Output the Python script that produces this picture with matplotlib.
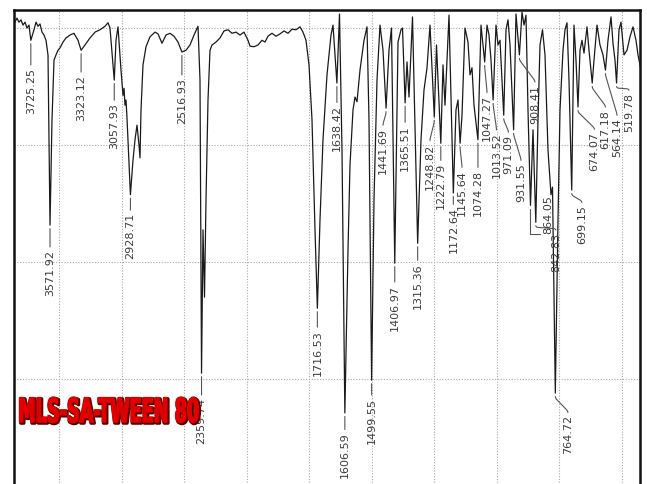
import numpy as np
import matplotlib
matplotlib.use('Agg')
import matplotlib.pyplot as plt
import matplotlib.patheffects as pe
from matplotlib.colors import to_rgba
from matplotlib.transforms import Affine2D

'''FTIR spectrum of MLS-SA-TWEEN 80'''

# wavenumber (cm-1) and transmittance (%)
wavenumber = [3852, 3836, 3820, 3804, 3788, 3772, 3756, 3740, 3725.25, 3700,
              3684, 3668, 3652, 3636, 3620, 3604, 3588, 3571.92, 3556, 3540,
              3524, 3508, 3492, 3468, 3444, 3412, 3380, 3348, 3323.12, 3292,
              3252, 3212, 3172, 3132, 3108, 3092, 3057.93, 3044, 3028, 3004,
              2988, 2980, 2972, 2964, 2956, 2928.71, 2908, 2892, 2876, 2860,
              2852, 2844, 2828, 2804, 2772, 2732, 2708, 2676, 2644, 2612,
              2580, 2548, 2516.93, 2484, 2452, 2420, 2388, 2372, 2359.74, 2348,
              2336, 2324, 2308, 2292, 2276, 2244, 2212, 2180, 2148, 2116,
              2084, 2052, 2020, 1994, 1986, 1970, 1954, 1938, 1926, 1914,
              1898, 1882, 1866, 1850, 1834, 1818, 1802, 1786, 1774, 1762,
              1750, 1738, 1726, 1716.53, 1706, 1694, 1678, 1662, 1654, 1638.42,
              1628, 1618, 1606.59, 1594, 1586, 1574, 1566, 1558, 1546, 1530,
              1518, 1510, 1499.55, 1490, 1478, 1466, 1454, 1441.69, 1430, 1420,
              1406.97, 1394, 1382, 1376, 1365.51, 1358, 1350, 1336, 1315.36, 1302,
              1290, 1278, 1266, 1248.82, 1240, 1222.79, 1214, 1206, 1190, 1172.64,
              1162, 1154, 1145.64, 1138, 1126, 1114, 1106, 1098, 1090, 1074.28,
              1062, 1054, 1047.27, 1038, 1030, 1022, 1013.52, 1002, 994, 986,
              971.09, 962, 954, 946, 931.55, 922, 908.41, 898, 890, 882,
              874, 864.05, 854, 842.83, 834, 826, 816, 806, 794, 782,
              776, 764.72, 754, 746, 734, 726, 718, 710, 699.15, 690,
              682, 674.07, 666, 658, 650, 638, 630, 617.18, 610, 598,
              586, 574, 564.14, 554, 542, 534, 526, 519.78, 510, 502,
              490, 478, 466, 454, 442, 434, 426, 418]
transmittance = [101.0, 101.7, 101.0, 101.4, 100.5, 101.0, 100.0, 100.5, 97.9, 99.7,
                 101.0, 100.3, 100.7, 99.3, 98.8, 97.9, 95.4, 66.3, 84.3, 94.5,
                 95.4, 96.2, 96.6, 97.6, 98.3, 98.8, 99.1, 97.9, 96.2, 97.1,
                 98.3, 99.3, 99.7, 100.3, 100.9, 100.0, 91.1, 97.9, 100.2, 92.8,
                 88.5, 89.7, 86.8, 87.7, 84.6, 71.5, 77.4, 80.9, 83.4, 80.0,
                 77.8, 86.0, 93.7, 96.8, 98.5, 99.3, 99.0, 97.4, 98.8, 99.1,
                 98.6, 97.6, 95.9, 96.2, 97.1, 98.8, 100.3, 91.1, 41.0, 65.5,
                 54.0, 70.6, 87.7, 96.2, 97.1, 97.6, 98.3, 99.5, 99.7, 99.1,
                 99.3, 98.8, 99.3, 97.9, 96.9, 96.8, 97.1, 97.9, 97.6, 98.6,
                 99.1, 98.6, 99.0, 99.5, 99.1, 99.8, 99.7, 100.2, 99.3, 97.9,
                 93.7, 84.3, 65.5, 52.1, 67.2, 80.9, 92.0, 98.8, 100.5, 90.6,
                 102.4, 79.1, 34.2, 62.1, 76.6, 86.0, 88.2, 87.4, 92.8, 97.9,
                 100.2, 84.3, 39.8, 70.6, 91.1, 100.5, 96.2, 86.3, 96.2, 100.0,
                 59.8, 97.6, 99.7, 100.0, 87.2, 94.2, 88.2, 101.9, 63.2, 80.9,
                 89.4, 93.2, 100.5, 84.8, 97.1, 80.3, 93.7, 86.8, 102.2, 71.8,
                 86.0, 87.7, 80.3, 85.1, 100.0, 97.6, 92.0, 93.2, 86.8, 80.9,
                 100.5, 97.0, 94.2, 100.5, 98.8, 94.5, 87.7, 100.5, 97.1, 97.9,
                 85.1, 99.7, 101.4, 97.1, 82.6, 102.4, 95.4, 102.7, 100.5, 102.2,
                 86.0, 69.7, 82.6, 66.8, 84.3, 97.1, 99.7, 95.4, 79.1, 71.5,
                 72.8, 37.6, 67.2, 86.0, 96.2, 99.7, 100.9, 91.1, 72.3, 100.5,
                 94.5, 86.5, 96.2, 97.9, 95.7, 100.2, 96.2, 90.6, 94.5, 100.5,
                 97.1, 95.4, 92.8, 97.9, 101.9, 97.4, 94.5, 90.6, 99.7, 101.0,
                 95.4, 96.2, 98.5, 100.2, 97.9, 95.4, 93.7, 92.0]

# labelled bands and where each label sits (wavenumber, %T at the label's top)
peak_wn = [3725.25, 3571.92, 3323.12, 3057.93, 2928.71, 2516.93, 2359.74,
           1716.53, 1638.42, 1606.59, 1499.55, 1441.69, 1406.97, 1365.51,
           1315.36, 1248.82, 1222.79, 1172.64, 1145.64, 1074.28, 1047.27,
           1013.52, 971.09, 931.55, 908.41, 864.05, 842.83, 764.72, 699.15,
           674.07, 617.18, 564.14, 519.78]
label_wn = [3725.25, 3571.92, 3323.12, 3057.93, 2928.71, 2516.93, 2359.74,
            1716.53, 1638.42, 1606.59, 1499.55, 1454, 1406.97, 1365.51,
            1315.36, 1266, 1222.79, 1172.64, 1138, 1074.28, 1038,
            1000, 952, 902, 846, 794, 762, 714, 658,
            608, 564, 518, 470]
label_T = [93.2, 62.1, 92.0, 87.2, 68.4, 91.5, 36.8,
           48.4, 86.8, 30.9, 36.8, 82.9, 56.1, 83.4,
           59.8, 80.3, 76.9, 69.4, 75.7, 75.7, 88.5,
           82.1, 81.7, 76.9, 90.3, 71.5, 65.0, 33.8, 69.7,
           82.2, 86.0, 84.6, 88.9]

grid_wn = [3500, 3000, 2500, 2000, 1750, 1500, 1250, 1000, 750, 500]
grid_T = [100, 80, 60, 40, 20]


# x axis is compressed by 2 above 2000 cm-1
def fwd(w):
    w = np.asarray(w, dtype=float)
    return np.where(w > 2000, 2000 + (w - 2000) / 2, w)


def inv(t):
    t = np.asarray(t, dtype=float)
    return np.where(t > 2000, 2000 + (t - 2000) * 2, t)


class Squeeze(pe.AbstractPathEffect):
    '''Narrows text horizontally, optionally drawn as a stroke'''

    def __init__(self, sx, stroke=None, lw=0, offset=(0, 0)):
        super().__init__(offset)
        self.sx = sx
        self.stroke = stroke
        self.lw = lw

    def draw_path(self, renderer, gc, tpath, affine, rgbFace=None):
        x0, y0 = affine.transform((0, 0))
        aff = (affine + Affine2D().translate(-x0, -y0).scale(self.sx, 1).translate(x0, y0)
               + self._offset_transform(renderer))
        gc0 = renderer.new_gc()
        gc0.copy_properties(gc)
        face = rgbFace
        if self.stroke is not None:
            gc0.set_foreground(self.stroke)
            gc0.set_linewidth(self.lw)
            face = to_rgba(self.stroke)
        renderer.draw_path(gc0, tpath, aff, face)
        gc0.restore()


fig = plt.figure(figsize=(6.47, 4.84), dpi=100)
ax = fig.add_axes([14/647, -100/484, 626/647, 574/484])
ax.set_xscale('function', functions=(fwd, inv))

ax.plot(wavenumber, transmittance, color='#1a1a1a', lw=0.9, zorder=3)
ax.set_xlim(3860, 426)
ax.set_ylim(4.96, 103.08)

ax.set_xticks(grid_wn)
ax.set_yticks(grid_T)
ax.grid(True, linestyle=(0, (1, 1.5)), color='#a8a8a8', linewidth=0.8)
ax.tick_params(length=0, labelbottom=False, labelleft=False)
for s in ['top', 'left', 'right']:
    ax.spines[s].set_linewidth(1.8)
    ax.spines[s].set_color('#111111')

wn_inc = np.array(wavenumber)[::-1]
T_inc = np.array(transmittance)[::-1]

for w, lx, ly in zip(peak_wn, label_wn, label_T):
    tp = np.interp(w, wn_inc, T_inc)
    rel = (0.5, 1.0)
    if lx == w:
        cs = 'arc3'
    elif ly > tp:
        # label hangs beside the band, leader runs from its foot
        rel = (0.5, 0.0)
        cs = 'angle,angleA=0,angleB=90,rad=0'
    else:
        cs = 'arc,angleA=90,armA=4,angleB=-90,armB=5,rad=2'
    ax.annotate(f'{w:.2f}', xy=(w, tp), xytext=(lx, ly), rotation=90,
                ha='center', va='top', fontsize=8.0, color='#3c3c3c', zorder=4,
                arrowprops=dict(arrowstyle='-', color='#555555', lw=0.8,
                                shrinkA=0, shrinkB=2.5, relpos=rel,
                                connectionstyle=cs))

fig.text(18/647, 1 - 422/484, 'MLS-SA-TWEEN 80', fontsize=24, fontweight='bold',
         color='#e00000', ha='left', va='baseline',
         path_effects=[Squeeze(0.53, stroke='#5a0000', lw=2.4, offset=(0.8, -0.8)),
                       Squeeze(0.53, stroke='#d80000', lw=1.2),
                       Squeeze(0.53)])

plt.savefig('out.png', dpi=100)
